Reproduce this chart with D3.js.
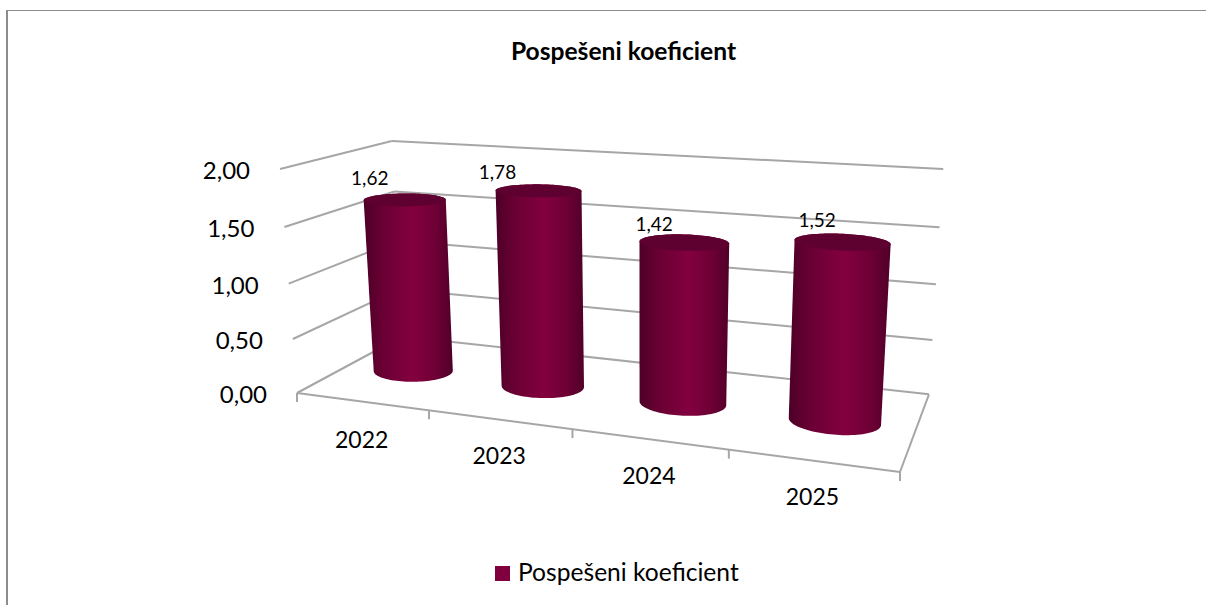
<!DOCTYPE html>
<html><head><meta charset="utf-8">
<style>html,body{margin:0;padding:0;background:#fff}svg{display:block}text{font-family:Lato,"Open Sans",sans-serif;fill:#000}</style>
<script src="https://cdn.jsdelivr.net/npm/d3@7"></script></head><body>
<svg id="c" width="1206" height="605"></svg>
<script>
const title = "Pospešeni koeficient";
const seriesName = "Pospešeni koeficient";
const categories = ["2022","2023","2024","2025"];
const values = [1.62,1.78,1.42,1.52];
const valueTicks = [0,0.5,1,1.5,2];
const fmt = v => v.toFixed(2).replace(".",",");
const svg = d3.select("#c");

// projective camera of the unit cube: corners of the plot box on screen
const A=[297,393],B=[900,472],C=[402,336.5],D=[280,169];
const al=-0.159, be=0.153, ga=-0.047;
const u = d3.scaleLinear().domain([0,categories.length]).range([0,1]);
const h = d3.scaleLinear().domain([0,2]).range([0,1]);
function P(a,b,c){
  const w=1+al*a+be*b+ga*c;
  return [0,1].map(k=>(A[k]+a*((1+al)*B[k]-A[k])+b*((1+be)*C[k]-A[k])+c*((1+ga)*D[k]-A[k]))/w);
}
const line=d3.line(), GRID="#a6a6a6", COL="#80003f", CAP="#5e0030";
const seg=(p,q)=>svg.append("path").attr("d",line([p,q])).attr("fill","none").attr("stroke",GRID).attr("stroke-width",2);

// chart border
svg.append("path").attr("d",line([[7,605],[7,10]])).attr("fill","none").attr("stroke","#8c8c8c").attr("stroke-width",2);
svg.append("path").attr("d",line([[6,10.5],[1206,10.5]])).attr("fill","none").attr("stroke","#8c8c8c").attr("stroke-width",1.2);

// title
svg.append("text").attr("x",623.5).attr("y",60).attr("text-anchor","middle").attr("font-size",24.6).attr("font-weight",700).text(title);

// walls
valueTicks.forEach(t=>{
  seg(P(0,0,h(t)),P(0,1,h(t)));
  seg(P(0,1,h(t)),P(1,1,h(t)));
  const p=P(0,0,h(t));
  svg.append("text").attr("x",p[0]-30).attr("y",p[1]+10).attr("text-anchor","end").attr("font-size",24).text(fmt(t));
});
// floor
seg(P(0,0,0),P(1,0,0)); seg(P(1,0,0),P(1,1,0));
d3.range(categories.length+1).forEach(i=>{const p=P(u(i),0,0);seg(p,[p[0],p[1]+9]);});
const catDy=[47,45,45,44];
categories.forEach((c,i)=>{
  const p=P(u(i+0.5),0,0);
  svg.append("text").attr("x",p[0]).attr("y",p[1]+catDy[i]).attr("text-anchor","middle").attr("font-size",23).text(c);
});

// cylinders
const defs=svg.append("defs");
const RU=0.072, RV=0.17, VC=0.49, N=96;
const ring=(i,hh)=>d3.range(N).map(k=>{const t=k/N*2*Math.PI;return P(u(i+0.5)+RU*Math.cos(t),VC+RV*Math.sin(t),hh);});
const labelDx=[-35,-41,-30,-25], labelDy=[-15,-12,-11,-15];
values.forEach((v,i)=>{
  const bot=ring(i,0), top=ring(i,h(v));
  const hull=d3.polygonHull(bot.concat(top));
  const [x0,x1]=d3.extent(hull,d=>d[0]);
  const id="g"+i;
  const g=defs.append("linearGradient").attr("id",id).attr("gradientUnits","userSpaceOnUse").attr("x1",x0).attr("x2",x1).attr("y1",0).attr("y2",0);
  [[0,"#4c0027"],[0.2,"#680033"],[0.55,"#83003f"],[0.8,"#6e0035"],[1,"#500029"]].forEach(s=>g.append("stop").attr("offset",s[0]).attr("stop-color",s[1]));
  svg.append("path").attr("d",line(hull)+"Z").attr("fill",`url(#${id})`);
  svg.append("path").attr("d",line(top)+"Z").attr("fill",CAP);
  const c=P(u(i+0.5),VC,h(v));
  svg.append("text").attr("x",c[0]+labelDx[i]).attr("y",c[1]+labelDy[i]).attr("text-anchor","middle").attr("font-size",19).text(fmt(v));
});

// legend
svg.append("rect").attr("x",495).attr("y",566).attr("width",15).attr("height",15).attr("fill",COL);
svg.append("text").attr("x",518).attr("y",581).attr("font-size",24.6).text(seriesName);
</script></body></html>
